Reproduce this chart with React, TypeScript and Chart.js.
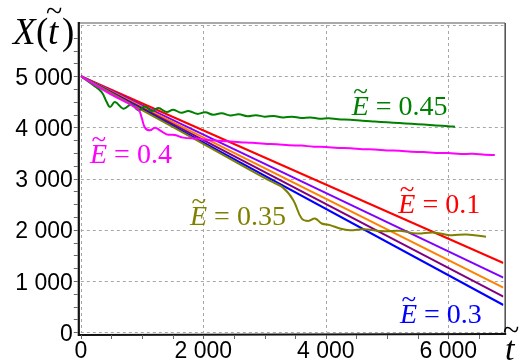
import React, { useEffect, useRef } from "react";
import { Chart, registerables } from "chart.js";

Chart.register(...registerables);

// ---- axis ranges & ticks ----
const X_MIN = 0;
const X_MAX = 6900;
const Y_MIN = 0;
const Y_MAX = 6000;
const xGridTicks = [0, 2000, 4000, 6000];
const yGridTicks = [0, 1000, 2000, 3000, 4000, 5000, 6000];
const xLabelTicks = [0, 2000, 4000, 6000];
const yLabelTicks = [0, 1000, 2000, 3000, 4000, 5000];
const xMinorTicks = [0, 500, 1000, 1500, 2000, 2500, 3000, 3500, 4000, 4500, 5000, 5500, 6000, 6500];
const yMinorTicks = [0, 250, 500, 750, 1000, 1250, 1500, 1750, 2000, 2250, 2500, 2750, 3000, 3250, 3500, 3750, 4000, 4250, 4500, 4750, 5000, 5250, 5500, 5750];

// ---- straight lines (E = 0.1 ... 0.3) ----
const straightT = [0, 6900];
const redX = [5000, 1353];
const violetX = [5000, 1066];
const orangeX = [5000, 871];
const purpleX = [5000, 695];
const blueX = [5000, 533];

// ---- E = 0.35 (olive) ----
const oliveT = [0, 1000, 2000, 2760, 3100, 3306, 3470, 3606, 3715, 3824, 3933, 4069, 4232, 4395, 4612, 4939, 5211, 5484, 5756, 6028, 6300, 6616];
const oliveX = [5000, 4340, 3680, 3170, 2950, 2820, 2579, 2222, 2175, 2222, 2125, 2092, 2027, 1994, 2014, 1975, 1981, 1930, 1949, 1897, 1910, 1864];

// ---- E = 0.45 (green) ----
const greenT = [0, 200, 341, 423, 477, 558, 694, 831, 939, 1048, 1157, 1265, 1402, 1510, 1640, 1760, 1900, 2030, 2160, 2300, 2440, 2580, 2720, 2860, 3000, 3150, 3300, 3450, 3600, 3750, 3900, 4050, 4200, 4400, 4600, 4800, 5000, 5200, 5400, 5600, 5800, 6000, 6110];
const greenX = [5000, 4830, 4690, 4495, 4398, 4495, 4366, 4450, 4333, 4411, 4320, 4378, 4300, 4346, 4285, 4320, 4265, 4295, 4250, 4275, 4235, 4255, 4220, 4240, 4210, 4225, 4195, 4210, 4185, 4195, 4170, 4180, 4160, 4150, 4130, 4115, 4100, 4085, 4070, 4055, 4040, 4025, 4014];

// ---- E = 0.4 (magenta) ----
const magentaT = [0, 500, 939, 994, 1048, 1130, 1211, 1293, 1402, 1538, 1673, 1892, 2050, 2200, 2400, 2600, 2800, 3000, 3200, 3400, 3600, 3800, 4000, 4200, 4400, 4600, 4800, 5000, 5200, 5400, 5600, 5800, 6000, 6200, 6400, 6600, 6760];
const magentaX = [5000, 4640, 4346, 4191, 3996, 3943, 3996, 3943, 3865, 3852, 3801, 3782, 3760, 3745, 3730, 3712, 3700, 3680, 3670, 3650, 3645, 3625, 3620, 3600, 3595, 3575, 3570, 3550, 3545, 3525, 3520, 3500, 3500, 3480, 3485, 3465, 3460];

// ---- curve labels ----
const labelValues = ["0.45", "0.4", "0.35", "0.1", "0.3"];
const labelColors = ["#008000", "#ff00ff", "#808000", "#ff0000", "#0000ff"];
const labelAnchorT = [4423, 150, 1783, 5184, 5211];
const labelAnchorX = [4242, 3300, 2095, 2335, 176];

const pts = (t: number[], v: number[]) => t.map((x, i) => ({ x, y: v[i] }));
const fmt = (v: number) => (v === 0 ? "0" : String(v).replace(/\B(?=(\d{3})+(?!\d))/g, " "));

const decorPlugin = {
  id: "decor",
  beforeDatasetsDraw(chart: any) {
    const { ctx, chartArea: a, scales } = chart;
    const xs = scales.x, ys = scales.y;
    ctx.save();
    ctx.strokeStyle = "#a6a6a6";
    ctx.lineWidth = 1;
    ctx.setLineDash([3, 3]);
    for (const t of xGridTicks) {
      const px = Math.round(xs.getPixelForValue(t)) + 0.5;
      ctx.beginPath();
      ctx.moveTo(px, a.top);
      ctx.lineTo(px, a.bottom);
      ctx.stroke();
    }
    for (const v of yGridTicks) {
      const py = Math.round(ys.getPixelForValue(v)) + 0.5;
      ctx.beginPath();
      ctx.moveTo(a.left, py);
      ctx.lineTo(a.right, py);
      ctx.stroke();
    }
    ctx.restore();
  },
  afterDatasetsDraw(chart: any) {
    const { ctx, chartArea: a, scales } = chart;
    const xs = scales.x, ys = scales.y;
    ctx.save();
    const L = a.left - 2, B = a.bottom + 1.7, T = a.top - 2, R = a.right + 1.8;
    // frame top/right
    ctx.strokeStyle = "#555";
    ctx.lineWidth = 1;
    ctx.beginPath();
    ctx.moveTo(L, T);
    ctx.lineTo(R, T);
    ctx.stroke();
    ctx.lineWidth = 1.6;
    ctx.beginPath();
    ctx.moveTo(R, T);
    ctx.lineTo(R, B);
    ctx.stroke();
    // axes
    ctx.strokeStyle = "#111";
    ctx.lineWidth = 2.2;
    ctx.beginPath();
    ctx.moveTo(L, T - 1);
    ctx.lineTo(L, B + 1);
    ctx.lineTo(R + 1, B);
    ctx.stroke();
    // minor ticks
    ctx.strokeStyle = "#666";
    ctx.lineWidth = 1;
    for (const t of xMinorTicks) {
      const px = Math.round(xs.getPixelForValue(t)) + 0.5;
      ctx.beginPath();
      ctx.moveTo(px, B + 1);
      ctx.lineTo(px, B + 5);
      ctx.stroke();
    }
    for (const v of yMinorTicks) {
      const py = Math.round(ys.getPixelForValue(v)) + 0.5;
      ctx.beginPath();
      ctx.moveTo(L - 1, py);
      ctx.lineTo(L - 5, py);
      ctx.stroke();
    }
    // tick labels
    ctx.fillStyle = "#000";
    ctx.font = "23px 'Liberation Sans', Arial, sans-serif";
    ctx.textBaseline = "alphabetic";
    ctx.textAlign = "right";
    for (const v of yLabelTicks) {
      ctx.fillText(fmt(v), a.left - 8, ys.getPixelForValue(v) + 8.5);
    }
    ctx.textAlign = "center";
    for (const t of xLabelTicks) {
      ctx.fillText(fmt(t), xs.getPixelForValue(t), 358);
    }
    // axis titles
    ctx.textAlign = "left";
    ctx.font = "italic 37px 'Liberation Serif', 'Times New Roman', serif";
    ctx.fillText("X", 13, 43.5);
    ctx.font = "37px 'Liberation Serif', 'Times New Roman', serif";
    ctx.fillText("(", 36, 43.5);
    ctx.font = "italic 37px 'Liberation Serif', 'Times New Roman', serif";
    ctx.fillText("t", 48, 43.5);
    ctx.font = "37px 'Liberation Serif', 'Times New Roman', serif";
    ctx.fillText(")", 62, 43.5);
    ctx.font = "30px 'Liberation Serif', 'Times New Roman', serif";
    ctx.fillText("~", 46, 21);
    // t-axis title
    ctx.font = "italic 34px 'Liberation Serif', 'Times New Roman', serif";
    ctx.fillText("t", 505, 360);
    ctx.font = "30px 'Liberation Serif', 'Times New Roman', serif";
    ctx.fillText("~", 503, 340);
    // curve labels
    for (let i = 0; i < labelValues.length; i++) {
      const x = xs.getPixelForValue(labelAnchorT[i]);
      const y = ys.getPixelForValue(labelAnchorX[i]);
      ctx.fillStyle = labelColors[i];
      ctx.font = "italic 28px 'Liberation Serif', 'Times New Roman', serif";
      ctx.fillText("E", x, y);
      const w = ctx.measureText("E").width;
      ctx.font = "28px 'Liberation Serif', 'Times New Roman', serif";
      ctx.fillText(" = " + labelValues[i], x + w, y);
      ctx.font = "27px 'Liberation Serif', 'Times New Roman', serif";
      ctx.fillText("~", x + 1.5, y - 15);
    }
    ctx.restore();
  },
};

export default function App() {
  const ref = useRef<HTMLCanvasElement>(null);
  useEffect(() => {
    const mk = (label: string, t: number[], v: number[], color: string, tension = 0) => ({
      label,
      data: pts(t, v),
      borderColor: color,
      backgroundColor: color,
      borderWidth: 2,
      pointRadius: 0,
      tension,
      fill: false,
    });
    const chart = new Chart(ref.current!, {
      type: "line",
      data: {
        datasets: [
          mk("E=0.4", magentaT, magentaX, "#ff00ff", 0.4),
          mk("E=0.45", greenT, greenX, "#008000", 0.4),
          mk("E=0.35", oliveT, oliveX, "#808000", 0.4),
          mk("blue", straightT, blueX, "#0000ff"),
          mk("purple", straightT, purpleX, "#800080"),
          mk("orange", straightT, orangeX, "#ff8000"),
          mk("violet", straightT, violetX, "#8000ff"),
          mk("E=0.1", straightT, redX, "#ff0000"),
        ] as any,
      },
      options: {
        animation: false,
        responsive: false,
        layout: { padding: { left: 80.8, right: 27.6, top: 25, bottom: 28.7 } },
        scales: {
          x: { type: "linear", min: X_MIN, max: X_MAX, display: false },
          y: { type: "linear", min: Y_MIN, max: Y_MAX, display: false },
        },
        plugins: { legend: { display: false }, tooltip: { enabled: false } },
        events: [],
      },
      plugins: [decorPlugin],
    } as any);
    return () => chart.destroy();
  }, []);
  return (
    <div style={{ position: "fixed", left: 0, top: 0, width: 531, height: 361, background: "#fff" }}>
      <canvas ref={ref} width={531} height={361} style={{ display: "block" }} />
    </div>
  );
}
